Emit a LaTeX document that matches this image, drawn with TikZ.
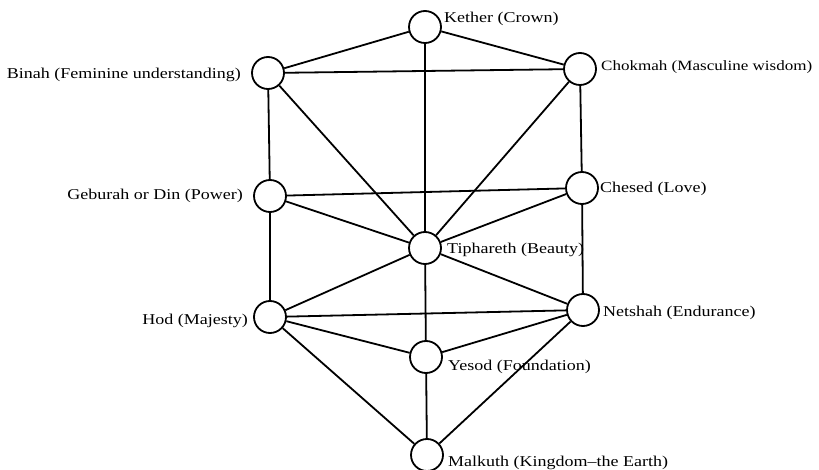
\documentclass[tikz,border=0pt]{standalone}
\usepackage{fontspec}
\setmainfont{Liberation Serif}[FakeStretch=1.2]
\begin{document}
\begin{tikzpicture}[x=1pt,y=-1pt,
  sefira/.style={circle,draw,line width=1.8pt,minimum size=32pt,inner sep=0pt,fill=white},
  lbl/.style={inner sep=0pt,font=\fontsize{15}{17}\selectfont},
  path/.style={line width=1.8pt}]
\useasboundingbox (0,0) rectangle (819,470);
\node[sefira] (ke) at (425,27) {};
\node[sefira] (bi) at (268,73) {};
\node[sefira] (ch) at (580,69) {};
\node[sefira] (ge) at (270,196) {};
\node[sefira] (cs) at (582,188) {};
\node[sefira] (ti) at (425,248) {};
\node[sefira] (ho) at (270,317) {};
\node[sefira] (ne) at (583,310) {};
\node[sefira] (ye) at (426,357) {};
\node[sefira] (ma) at (427,455) {};
\foreach \a/\b in {ke/bi,ke/ch,ke/ti,bi/ch,bi/ge,bi/ti,ch/cs,ch/ti,ge/cs,ge/ti,ge/ho,cs/ti,cs/ne,ti/ho,ti/ne,ti/ye,ho/ne,ho/ye,ho/ma,ne/ye,ne/ma,ye/ma}
  \draw[path] (\a) -- (\b);
\node[lbl,anchor=west] (lke) at (444,19) {Kether (Crown)};
\node[lbl,anchor=east] (lbi) at (241,75) {Binah (Feminine understanding)};
\node[lbl,anchor=west,font=\fontsize{14.2}{17}\selectfont] (lch) at (601,67) {Chokmah (Masculine wisdom)};
\node[lbl,anchor=east] (lge) at (243,196) {Geburah or Din (Power)};
\node[lbl,anchor=west] (lcs) at (600,189) {Chesed (Love)};
\node[lbl,anchor=west] (lti) at (447,250) {Tiphareth (Beauty)};
\node[lbl,anchor=east] (lho) at (248,321) {Hod (Majesty)};
\node[lbl,anchor=west] (lne) at (603,313) {Netshah (Endurance)};
\node[lbl,anchor=west] (lye) at (448,367) {Yesod (Foundation)};
\node[lbl,anchor=west] (lma) at (448,463) {Malkuth (Kingdom--the Earth)};
\end{tikzpicture}
\end{document}
